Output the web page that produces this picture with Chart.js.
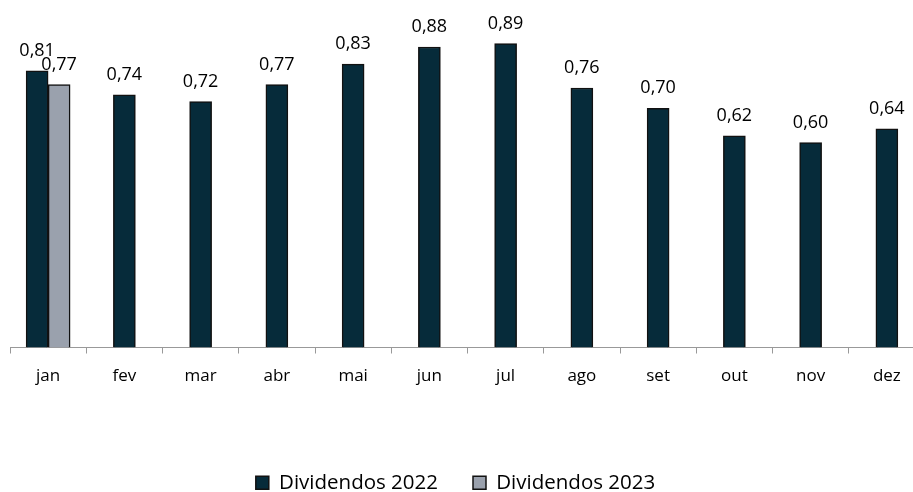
<!DOCTYPE html>
<html>
<head>
<meta charset="utf-8">
<script src="https://cdn.jsdelivr.net/npm/chart.js@4"></script>
<style>
  html, body { margin: 0; padding: 0; overflow: hidden; background: #fff; }
  #wrap { width: 925px; height: 492px; }
</style>
</head>
<body>
<div id="wrap"><canvas id="divChart"></canvas></div>
<script>
// data
const months = ['jan', 'fev', 'mar', 'abr', 'mai', 'jun', 'jul', 'ago', 'set', 'out', 'nov', 'dez'];
const div2022 = [0.81, 0.74, 0.72, 0.77, 0.83, 0.88, 0.89, 0.76, 0.70, 0.62, 0.60, 0.64];
const div2023 = [0.77, null, null, null, null, null, null, null, null, null, null, null];

const FONT = "'Open Sans', 'Noto Sans', sans-serif";

// value labels above each bar, decimal comma
const valueLabels = {
    id: 'valueLabels',
    afterDatasetsDraw(chart) {
        const ctx = chart.ctx;
        ctx.save();
        ctx.font = '18px ' + FONT;
        ctx.fillStyle = '#000';
        ctx.textAlign = 'center';
        ctx.textBaseline = 'alphabetic';
        chart.data.datasets.forEach(function(ds, i) {
            chart.getDatasetMeta(i).data.forEach(function(bar, j) {
                const v = ds.data[j];
                if (v === null || v === undefined) return;
                ctx.fillText(v.toFixed(2).replace('.', ','), bar.x, bar.y - 15);
            });
        });
        ctx.restore();
    }
};

// nudge the legend to where it sits in the original
const legendShift = {
    id: 'legendShift',
    afterLayout(chart) {
        const l = chart.legend;
        if (!l) return;
        l.left -= 12; l.right -= 12;
        l.top += 11; l.bottom += 11;
    }
};

new Chart(document.getElementById('divChart'), {
    type: 'bar',
    data: {
        labels: months,
        datasets: [{
            label: 'Dividendos 2022',
            data: div2022,
            backgroundColor: '#062b3a',
            borderColor: '#111',
            borderWidth: 1.5,
            barThickness: 22,
            skipNull: true
        }, {
            label: 'Dividendos 2023',
            data: div2023,
            backgroundColor: '#9aa1ad',
            borderColor: '#111',
            borderWidth: 1.5,
            barThickness: 22,
            skipNull: true
        }]
    },
    options: {
        responsive: true,
        maintainAspectRatio: false,
        animation: false,
        layout: { padding: { left: 10, right: 0, top: 6, bottom: 0 } },
        plugins: {
            legend: {
                position: 'bottom',
                labels: {
                    boxWidth: 13,
                    boxHeight: 13,
                    padding: 35,
                    color: '#000',
                    font: { family: FONT, size: 20.5 }
                }
            },
            tooltip: { enabled: false }
        },
        scales: {
            y: { display: false, min: 0, max: 1.0 },
            x: {
                grid: { display: true, drawOnChartArea: false, drawTicks: true, tickLength: 6, offset: true, color: '#999' },
                border: { display: true, color: '#999' },
                ticks: { color: '#000', padding: 12, font: { family: FONT, size: 17 } },
                afterFit(scale) { scale.height = 79; }
            }
        }
    },
    plugins: [valueLabels, legendShift]
});
</script>
</body>
</html>
